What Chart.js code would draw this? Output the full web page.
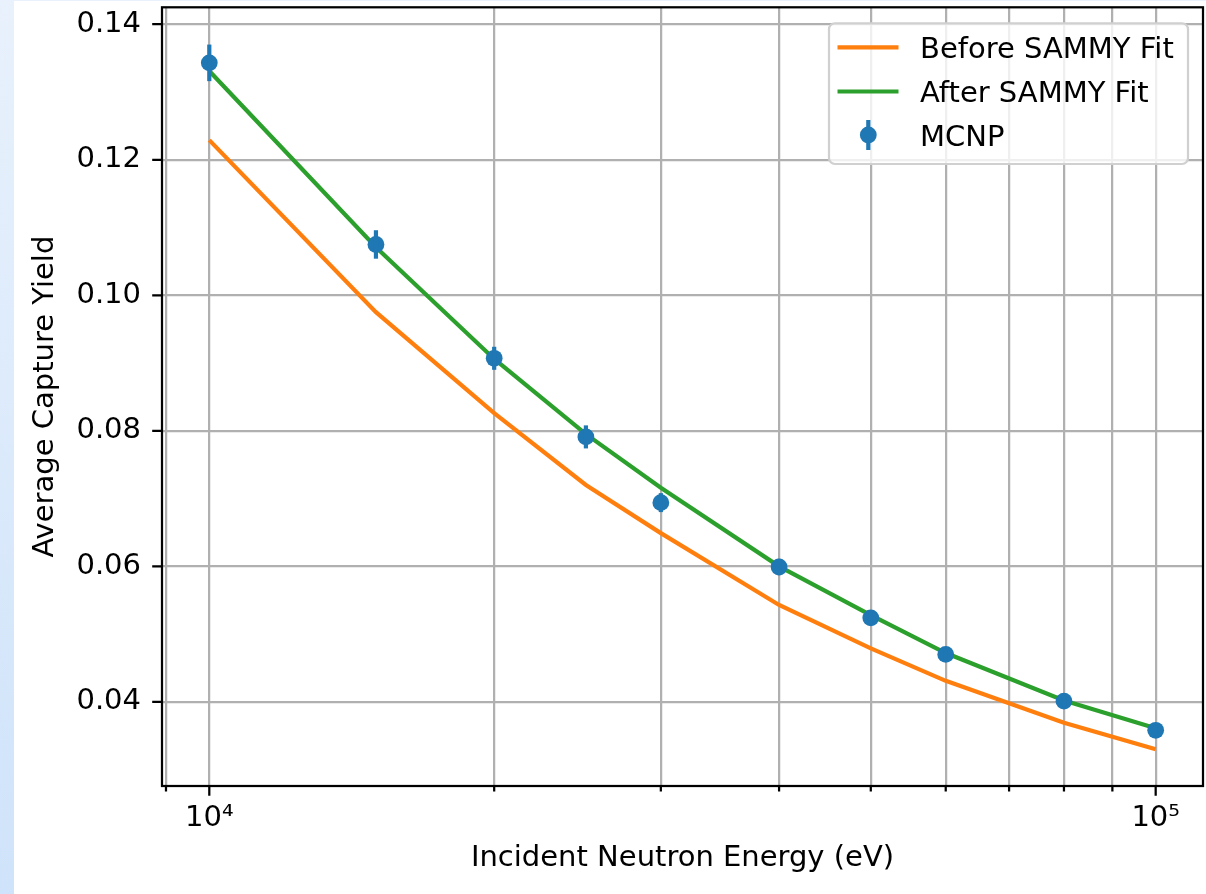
<!DOCTYPE html>
<html>
<head>
<meta charset="utf-8">
<title>Average Capture Yield</title>
<script src="https://cdn.jsdelivr.net/npm/chart.js@4.4.1/dist/chart.umd.min.js"></script>
<style>
  html, body {
    margin: 0;
    padding: 0;
    width: 1206px;
    height: 894px;
    overflow: hidden;
    background: linear-gradient(180deg, #e8f1fc 0%, #cfe3fa 100%);
  }
  #wrap {
    position: absolute;
    left: 14px;
    top: 1px;
    width: 1192px;
    height: 893px;
    background: #fff;
  }
</style>
</head>
<body>
<div id="wrap"><canvas id="yieldChart" width="1192" height="893"></canvas></div>
<script>
// data
const energies = [10000, 15000, 20000, 25000, 30000, 40000, 50000, 60000, 80000, 100000];
const mcnpYield = [0.1343, 0.1075, 0.0907, 0.0791, 0.0694, 0.0599, 0.0524, 0.0470, 0.0401, 0.0358];
const mcnpError = [0.0027, 0.0021, 0.0017, 0.0017, 0.0014, 0.0012, 0.0010, 0.0009, 0.0008, 0.0007];
const beforeFit = [0.1229, 0.0975, 0.0826, 0.0720, 0.0649, 0.0543, 0.0479, 0.0431, 0.0369, 0.0330];
const afterFit = [0.1331, 0.1071, 0.0906, 0.0795, 0.0716, 0.0600, 0.0528, 0.0472, 0.0402, 0.0361];

// axis ticks
const xTicks = [9000, 10000, 20000, 30000, 40000, 50000, 60000, 70000, 80000, 90000, 100000];
const xTickLabels = {10000: '10\u2074', 100000: '10\u2075'};
const yTicks = [0.04, 0.06, 0.08, 0.10, 0.12, 0.14];

const BLUE = '#1f77b4';
const ORANGE = '#ff7f0e';
const GREEN = '#2ca02c';
const FONT = "'DejaVu Sans', sans-serif";
const FONT_SIZE = 29;
const PT = 2.8; // pixels per point

function points(values) {
  return energies.map((e, i) => ({x: e, y: values[i]}));
}

// error bars on the MCNP points
const errorBars = {
  id: 'errorBars',
  afterDatasetsDraw(chart) {
    const meta = chart.getDatasetMeta(2);
    const yScale = chart.scales.y;
    const ctx = chart.ctx;
    ctx.save();
    ctx.strokeStyle = BLUE;
    ctx.lineWidth = 1.5 * PT;
    meta.data.forEach((pt, i) => {
      ctx.beginPath();
      ctx.moveTo(pt.x, yScale.getPixelForValue(mcnpYield[i] + mcnpError[i]));
      ctx.lineTo(pt.x, yScale.getPixelForValue(mcnpYield[i] - mcnpError[i]));
      ctx.stroke();
    });
    ctx.restore();
  }
};

// spines, tick marks and the legend box
const frame = {
  id: 'frame',
  afterDraw(chart) {
    const {ctx, chartArea} = chart;
    const xs = chart.scales.x;
    const ys = chart.scales.y;
    ctx.save();
    ctx.strokeStyle = '#000';
    ctx.lineWidth = 0.8 * PT;
    ctx.strokeRect(chartArea.left, chartArea.top, chartArea.right - chartArea.left, chartArea.bottom - chartArea.top);

    ctx.beginPath();
    yTicks.forEach(v => {
      const y = ys.getPixelForValue(v);
      ctx.moveTo(chartArea.left, y);
      ctx.lineTo(chartArea.left - 3.5 * PT, y);
    });
    xTicks.forEach(v => {
      const x = xs.getPixelForValue(v);
      const len = xTickLabels[v] ? 3.5 * PT : 2 * PT;
      ctx.moveTo(x, chartArea.bottom);
      ctx.lineTo(x, chartArea.bottom + len);
    });
    ctx.stroke();

    // legend
    const bx = 815, by = 22.3, bw = 359, bh = 140.7;
    ctx.beginPath();
    ctx.roundRect(bx, by, bw, bh, 6);
    ctx.fillStyle = 'rgba(255,255,255,0.8)';
    ctx.fill();
    ctx.strokeStyle = '#d0d0d0';
    ctx.lineWidth = 0.8 * PT;
    ctx.stroke();

    const rows = [46.3, 90.5, 134];
    const ds = chart.data.datasets;
    ctx.font = FONT_SIZE + 'px ' + FONT;
    ctx.textBaseline = 'alphabetic';
    ctx.textAlign = 'left';
    ctx.lineWidth = 1.5 * PT;
    [0, 1].forEach(i => {
      ctx.strokeStyle = ds[i].borderColor;
      ctx.beginPath();
      ctx.moveTo(823.5, rows[i]);
      ctx.lineTo(884.5, rows[i]);
      ctx.stroke();
      ctx.fillStyle = '#000';
      ctx.fillText(ds[i].label, 906, rows[i] + 10.5);
    });
    ctx.strokeStyle = BLUE;
    ctx.beginPath();
    ctx.moveTo(854.3, rows[2] - 15);
    ctx.lineTo(854.3, rows[2] + 15);
    ctx.stroke();
    ctx.fillStyle = BLUE;
    ctx.beginPath();
    ctx.arc(854.3, rows[2], 8.4, 0, Math.PI * 2);
    ctx.fill();
    ctx.fillStyle = '#000';
    ctx.fillText(ds[2].label, 906, rows[2] + 10.5);
    ctx.restore();
  }
};

const canvas = document.getElementById('yieldChart');
const yieldChart = new Chart(canvas, {
  type: 'line',
  data: {
    datasets: [
      {
        label: 'Before SAMMY Fit',
        data: points(beforeFit),
        borderColor: ORANGE,
        backgroundColor: ORANGE,
        borderWidth: 1.5 * PT,
        pointRadius: 0,
        tension: 0,
        order: 2
      },
      {
        label: 'After SAMMY Fit',
        data: points(afterFit),
        borderColor: GREEN,
        backgroundColor: GREEN,
        borderWidth: 1.5 * PT,
        pointRadius: 0,
        tension: 0,
        order: 1
      },
      {
        label: 'MCNP',
        data: points(mcnpYield),
        showLine: false,
        pointRadius: 8.4,
        pointBorderWidth: 0,
        pointBackgroundColor: BLUE,
        borderColor: BLUE,
        backgroundColor: BLUE,
        order: 0
      }
    ]
  },
  options: {
    responsive: false,
    animation: false,
    devicePixelRatio: 1,
    layout: {
      autoPadding: false,
      padding: {top: 6.3, right: 3, left: 0, bottom: 0}
    },
    plugins: {
      legend: {display: false},
      tooltip: {enabled: false}
    },
    scales: {
      x: {
        type: 'logarithmic',
        min: 8913,
        max: 112202,
        afterBuildTicks: scale => { scale.ticks = xTicks.map(v => ({value: v})); },
        afterFit: scale => {
          scale.height = 108;
          scale.paddingLeft = 0;
          scale.paddingRight = 0;
        },
        border: {display: false},
        grid: {color: '#b0b0b0', lineWidth: 0.8 * PT, drawTicks: false},
        ticks: {
          autoSkip: false,
          maxRotation: 0,
          padding: 15,
          color: '#000',
          font: {family: FONT, size: FONT_SIZE},
          callback: v => xTickLabels[v] || ''
        },
        title: {
          display: true,
          text: 'Incident Neutron Energy (eV)',
          color: '#000',
          font: {family: FONT, size: FONT_SIZE},
          padding: {top: 0, bottom: 18}
        }
      },
      y: {
        type: 'linear',
        min: 0.02758,
        max: 0.1425,
        afterBuildTicks: scale => { scale.ticks = yTicks.map(v => ({value: v})); },
        afterFit: scale => {
          scale.width = 148;
          scale.paddingTop = 0;
          scale.paddingBottom = 0;
        },
        border: {display: false},
        grid: {color: '#b0b0b0', lineWidth: 0.8 * PT, drawTicks: false},
        ticks: {
          padding: 21,
          color: '#000',
          font: {family: FONT, size: FONT_SIZE},
          callback: v => v.toFixed(2)
        },
        title: {
          display: true,
          text: 'Average Capture Yield',
          color: '#000',
          font: {family: FONT, size: FONT_SIZE},
          padding: {top: 14, bottom: 0}
        }
      }
    }
  },
  plugins: [errorBars, frame]
});
</script>
</body>
</html>
